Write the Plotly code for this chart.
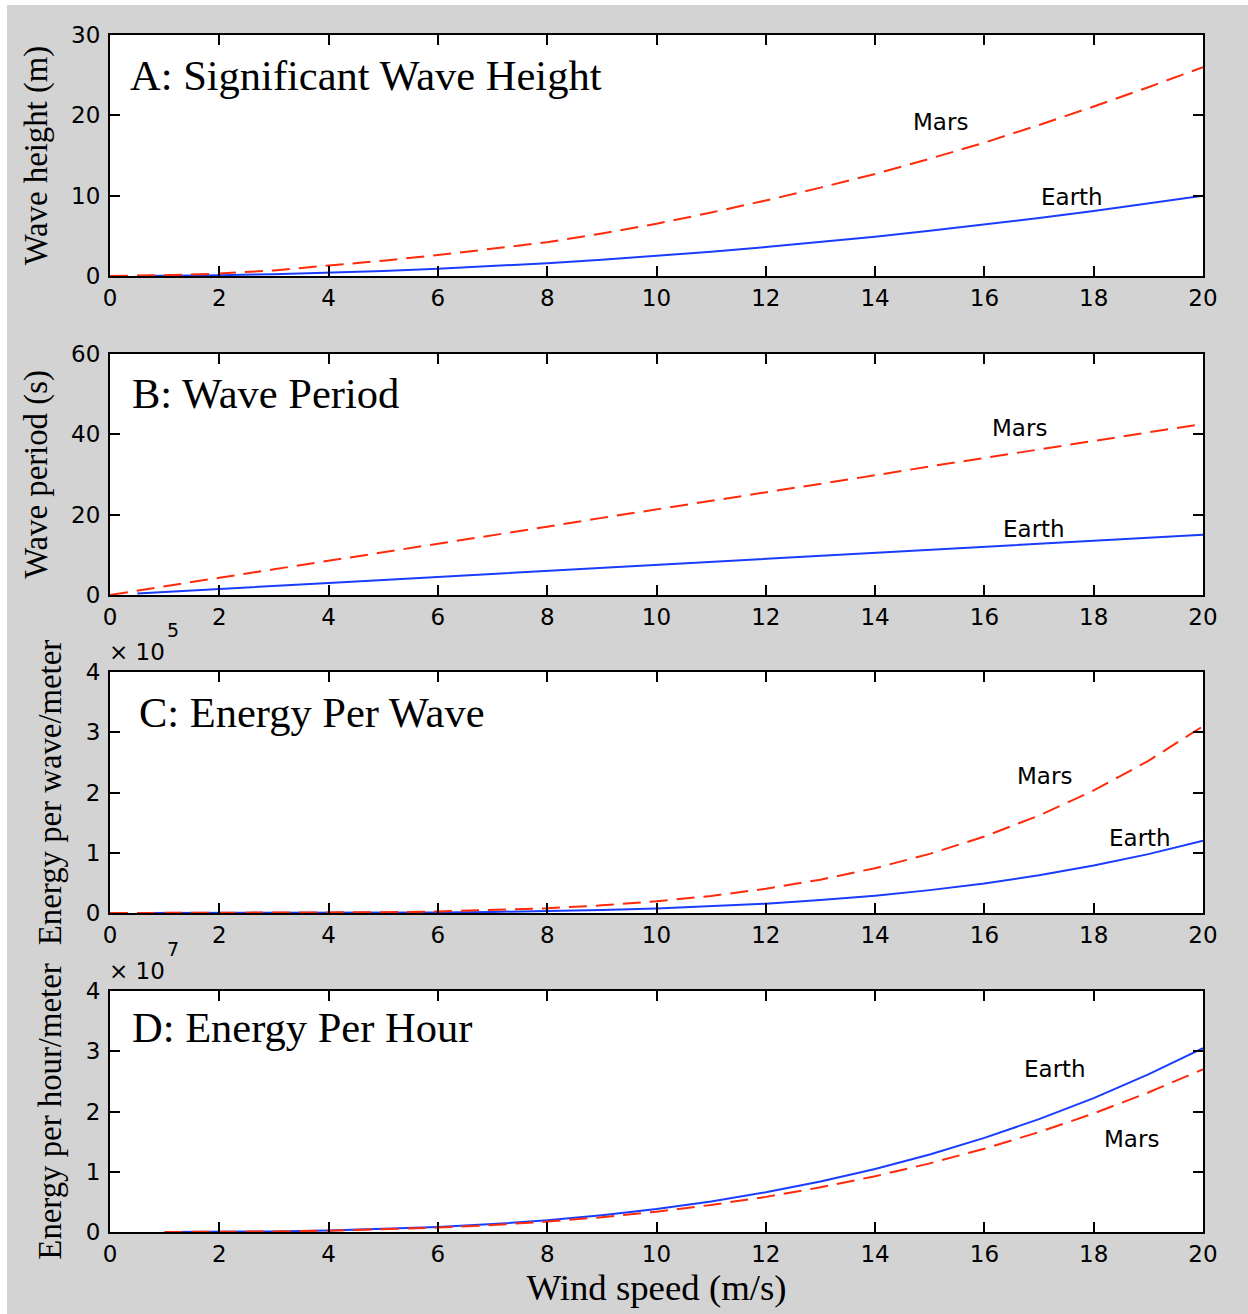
import plotly.graph_objects as go
from plotly.subplots import make_subplots

# ---------------- data ----------------
wind_mars = [0, 0.5, 1, 2, 3, 4, 5, 6, 7, 8, 9, 10, 11, 12, 13, 14, 15, 16, 17, 18, 19, 20]
wind_earth = [0.5, 1, 2, 3, 4, 5, 6, 7, 8, 9, 10, 11, 12, 13, 14, 15, 16, 17, 18, 19, 20]
wind_hour = [1, 2, 3, 4, 5, 6, 7, 8, 9, 10, 11, 12, 13, 14, 15, 16, 17, 18, 19, 20]

# A: significant wave height (m)
height_earth = [0.01, 0.03, 0.1, 0.22, 0.4, 0.62, 0.9, 1.22, 1.6, 2.02, 2.5, 3.02, 3.6,
                4.22, 4.9, 5.62, 6.4, 7.22, 8.1, 9.02, 10.0]
height_mars = [0, 0.05, 0.1, 0.3, 0.7, 1.3, 1.9, 2.6, 3.4, 4.2, 5.3, 6.5, 7.9, 9.4,
               11.0, 12.7, 14.6, 16.6, 18.8, 21.1, 23.5, 26.0]

# B: wave period (s)
period_earth = [0.4, 0.75, 1.5, 2.25, 3.0, 3.75, 4.5, 5.25, 6.0, 6.75, 7.5, 8.25, 9.0,
                9.75, 10.5, 11.25, 12.0, 12.75, 13.5, 14.25, 15.0]
period_mars = [0, 1.1, 2.1, 4.3, 6.4, 8.5, 10.7, 12.8, 14.9, 17.0, 19.2, 21.3, 23.4, 25.6,
               27.7, 29.8, 32.0, 34.1, 36.2, 38.3, 40.5, 42.6]

# C: energy per wave per meter
ewave_earth = [0, 1, 12, 61, 192, 469, 972, 1801, 3072, 4921, 7500, 10981, 15552, 21421,
               28812, 37969, 49152, 62641, 78732, 97741, 120000]
ewave_mars = [0, 0, 2, 31, 157, 496, 1211, 2511, 4652, 7936, 12712, 19375, 28367, 40176,
              55336, 74431, 98086, 126976, 161820, 203391, 252497, 310000]

# D: energy per hour per meter
ehour_earth = [3800, 30500, 103000, 244000, 477000, 824000, 1310000, 1950000, 2780000,
               3810000, 5070000, 6590000, 8380000, 10460000, 12870000, 15620000, 18730000,
               22230000, 26150000, 30500000]
ehour_mars = [3400, 27000, 91000, 216000, 422000, 729000, 1158000, 1728000, 2460000,
              3375000, 4490000, 5830000, 7410000, 9260000, 11390000, 13820000, 16580000,
              19680000, 23150000, 27000000]

panel_titles = ["A: Significant Wave Height", "B: Wave Period", "C: Energy Per Wave", "D: Energy Per Hour"]
y_titles = ["Wave height (m)", "Wave period (s)", "Energy per wave/meter", "Energy per hour/meter"]
x_title = "Wind speed (m/s)"
x_ticks = [0, 2, 4, 6, 8, 10, 12, 14, 16, 18, 20]
yA_ticks = [0, 10, 20, 30]
yB_ticks = [0, 20, 40, 60]
yC_ticks = [0, 100000, 200000, 300000, 400000]
yD_ticks = [0, 10000000, 20000000, 30000000, 40000000]
yC_ticktext = ["0", "1", "2", "3", "4"]
yD_ticktext = ["0", "1", "2", "3", "4"]
exponents = ["5", "7"]

# label positions (data coords)
labels = [
    [("Mars", 15.2, 19.2), ("Earth", 17.6, 9.8)],
    [("Mars", 16.65, 41.6), ("Earth", 16.9, 16.4)],
    [("Mars", 17.1, 227000), ("Earth", 18.85, 124500)],
    [("Earth", 17.3, 27000000), ("Mars", 18.7, 15400000)],
]

# ---------------- figure ----------------
SERIF = "Liberation Serif"
SANS = "DejaVu Sans"
BLUE = "#1a3cff"
RED = "#ff2a0a"
GRAY = "#d3d3d3"

W, H = 1248, 1314
ML, MR, MT, MB = 110, 45, 35, 82
PW = W - ML - MR
PH = H - MT - MB
tops = [35, 354, 672, 991]
ph = 241

fig = make_subplots(rows=4, cols=1)

series = [
    (wind_earth, height_earth, wind_mars, height_mars),
    (wind_earth, period_earth, wind_mars, period_mars),
    (wind_earth, ewave_earth, wind_mars, ewave_mars),
    (wind_hour, ehour_earth, wind_hour, ehour_mars),
]
for i, (xe, ye, xm, ym) in enumerate(series):
    r = i + 1
    fig.add_trace(go.Scatter(x=xe, y=ye, mode="lines", line=dict(color=BLUE, width=2),
                             showlegend=False, name="Earth"), row=r, col=1)
    fig.add_trace(go.Scatter(x=xm, y=ym, mode="lines",
                             line=dict(color=RED, width=2, dash="18px,9px"),
                             showlegend=False, name="Mars"), row=r, col=1)

yranges = [[0, 30], [0, 60], [0, 400000], [0, 40000000]]
yticks = [yA_ticks, yB_ticks, yC_ticks, yD_ticks]
yticktexts = [[str(v) for v in yA_ticks], [str(v) for v in yB_ticks], yC_ticktext, yD_ticktext]

for i in range(4):
    r = i + 1
    top = tops[i]
    bottom = top + ph
    d1 = (H - MB - top) / PH
    d0 = (H - MB - bottom) / PH
    axis_common = dict(showline=True, linecolor="black", linewidth=2, mirror="ticks",
                       ticks="inside", ticklen=10, tickwidth=2, tickcolor="black",
                       showgrid=False, zeroline=False,
                       tickfont=dict(family=SANS, size=23, color="black"))
    fig.update_xaxes(range=[0, 20], tickvals=x_ticks, ticktext=[str(v) for v in x_ticks],
                     row=r, col=1, **axis_common)
    fig.update_yaxes(range=yranges[i], tickvals=yticks[i], ticktext=yticktexts[i],
                     domain=[d0, d1], row=r, col=1, ticklabelstandoff=3,
                     title=dict(text=y_titles[i], font=dict(family=SERIF, size=32.8, color="black"),
                                standoff=14),
                     **axis_common)

fig.update_xaxes(title=dict(text=x_title, font=dict(family=SERIF, size=36.8, color="black"),
                            standoff=0), row=4, col=1)

annotations = []
title_pos = [(128, 75), (130, 393), (137, 712), (130, 1027)]
for i in range(4):
    xa = "x" if i == 0 else "x%d" % (i + 1)
    ya = "y" if i == 0 else "y%d" % (i + 1)
    px, py = title_pos[i]
    annotations.append(dict(text=panel_titles[i], xref=xa + " domain", yref=ya + " domain",
                            x=(px - ML) / PW, y=(tops[i] + ph - py) / ph,
                            xanchor="left", yanchor="middle", showarrow=False,
                            font=dict(family=SERIF, size=42.5, color="black")))
    for (t, lx, ly) in labels[i]:
        annotations.append(dict(text=t, xref=xa, yref=ya, x=lx, y=ly, showarrow=False,
                                xanchor="center", yanchor="middle",
                                font=dict(family=SANS, size=23, color="black")))

# exponent labels for C and D
for i, exp in zip([2, 3], exponents):
    xa = "x%d" % (i + 1)
    ya = "y%d" % (i + 1)
    annotations.append(dict(text="\u00d7 10", xref=xa + " domain", yref=ya + " domain",
                            x=-3 / PW, y=(ph + 20) / ph,
                            xanchor="left", yanchor="middle", showarrow=False,
                            font=dict(family=SANS, size=23, color="black")))
    annotations.append(dict(text=exp, xref=xa + " domain", yref=ya + " domain",
                            x=(173 - ML) / PW, y=(ph + 42) / ph,
                            xanchor="center", yanchor="middle", showarrow=False,
                            font=dict(family=SANS, size=19, color="black")))

shapes = [
    dict(type="rect", xref="paper", yref="paper", x0=-ML / PW - 0.01, x1=(7 - ML) / PW,
         y0=-MB / PH - 0.01, y1=1 + MT / PH + 0.01, fillcolor="white", line=dict(width=0), layer="above"),
    dict(type="rect", xref="paper", yref="paper", x0=-ML / PW - 0.01, x1=1 + MR / PW + 0.01,
         y0=1 + (MT - 5) / PH, y1=1 + MT / PH + 0.01, fillcolor="white", line=dict(width=0), layer="above"),
]

fig.update_layout(width=W, height=H, margin=dict(l=ML, r=MR, t=MT, b=MB),
                  paper_bgcolor=GRAY, plot_bgcolor="white",
                  annotations=annotations, shapes=shapes, showlegend=False)

fig.write_html("out.html", config={"displayModeBar": False},
               post_script="document.body.style.margin='0';document.body.style.overflow='hidden';")
